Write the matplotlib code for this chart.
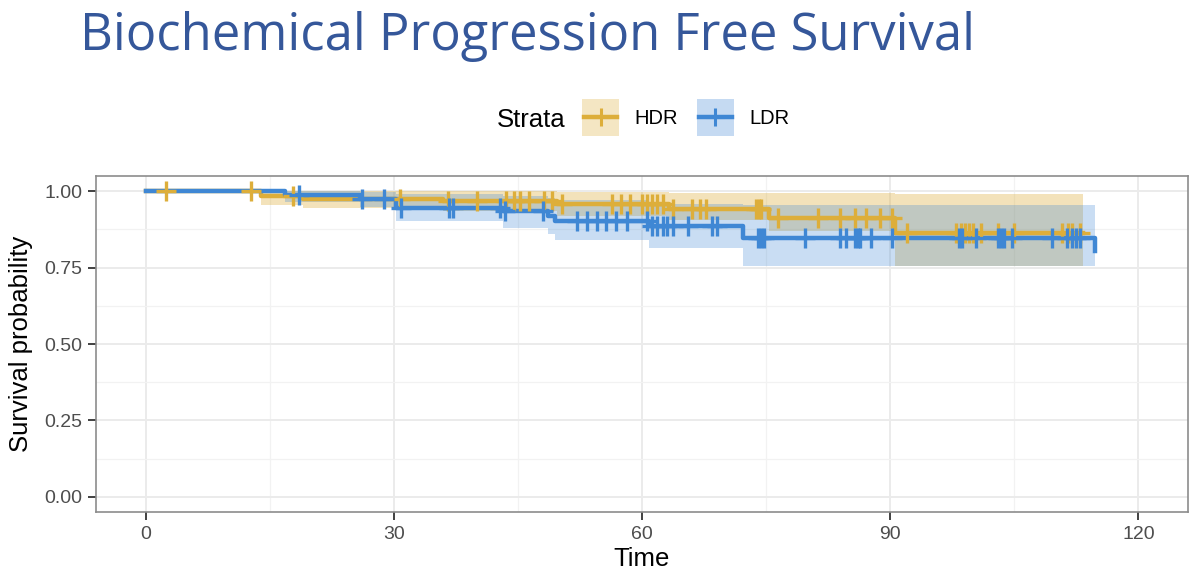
import numpy as np
import matplotlib
matplotlib.use("Agg")
import matplotlib.pyplot as plt
from matplotlib.patches import Rectangle
from matplotlib.lines import Line2D

# Kaplan-Meier Stufen (Zeit, Ueberleben) und Konfidenzband
hdr_t = [0, 14, 19, 36, 49.7, 63.3, 75.4, 90.6, 113.3]
hdr_s = [1.0, 0.983, 0.975, 0.968, 0.957, 0.943, 0.914, 0.865, 0.865]
hdr_lo = [1.0, 0.955, 0.945, 0.935, 0.92, 0.905, 0.87, 0.755, 0.755]
hdr_hi = [1.0, 1.0, 1.0, 1.0, 0.998, 0.996, 0.995, 0.99, 0.99]

ldr_t = [0, 16.8, 25.9, 30.3, 43.2, 48.6, 49.5, 60.8, 72.2, 114.7]
ldr_s = [1.0, 0.988, 0.974, 0.946, 0.935, 0.919, 0.903, 0.886, 0.848, 0.804]
ldr_lo = [1.0, 0.965, 0.947, 0.903, 0.881, 0.86, 0.84, 0.815, 0.755, 0.755]
ldr_hi = [1.0, 1.0, 0.998, 0.99, 0.985, 0.978, 0.97, 0.957, 0.954, 0.954]

# zensierte Beobachtungen
hdr_cens = [2.5, 12.7, 17.8, 30.7, 36.5, 40, 43.6, 44.5, 45.2, 46.3, 48.2, 49.1,
            50.3, 56.4, 57.5, 58.6, 60, 60.6, 61.2, 61.8, 62.5, 63.7, 66, 67, 67.7,
            73.8, 74.2, 74.4, 76.4, 81.3, 83.9, 85.8, 87.1, 88.8, 90.2, 92,
            98, 98.5, 99, 99.5, 100, 101, 103, 105, 110.8, 111.5, 112, 113]
ldr_cens = [18.5, 26.2, 28.8, 30.9, 36.7, 37.2, 42.8, 43.4, 48, 52.1, 53.4, 54.5,
            55.7, 56.9, 58.2, 60.6, 61.2, 61.8, 62.5, 63, 63.7, 65.5, 68.5, 69.1,
            74, 74.4, 74.8, 79.7, 83.9, 84.7, 85.8, 86.1, 86.4, 87.7, 90.2,
            98.3, 98.7, 100.4, 103, 103.4, 103.8, 104.7, 109.6, 111.4, 112, 112.5, 113]

gold = "#DDAE3A"
blue = "#3F87D4"
font = "Liberation Sans"


def surv_at(times, surv, x):
    idx = np.searchsorted(times, x, side="right") - 1
    return np.array(surv)[idx]


fig = plt.figure(figsize=(12, 5.79), dpi=100)
ax = fig.add_axes([0.08, 0.1157, 0.91, 0.5803])

# Baender: HDR zuerst, LDR halbtransparent darueber
ax.fill_between(hdr_t, hdr_lo, hdr_hi, step="post", color=gold, alpha=0.35, lw=0, zorder=2)
ax.fill_between(ldr_t, ldr_lo, ldr_hi, step="post", color=blue, alpha=0.28, lw=0, zorder=2)

for t, s, cens, col in [(hdr_t, hdr_s, hdr_cens, gold), (ldr_t, ldr_s, ldr_cens, blue)]:
    ax.step(t, s, where="post", color=col, lw=3.2, zorder=3)
    ax.plot(cens, surv_at(t, s, cens), ls="none", marker="+", ms=14, mew=2.4,
            color=col, zorder=4)

ax.set_xlim(-6, 126)
ax.set_ylim(-0.05, 1.05)
ax.set_xticks([0, 30, 60, 90, 120])
ax.set_xticks([15, 45, 75, 105], minor=True)
ax.set_yticks([0, 0.25, 0.5, 0.75, 1.0])
ax.set_yticks([0.125, 0.375, 0.625, 0.875], minor=True)
ax.set_yticklabels(["0.00", "0.25", "0.50", "0.75", "1.00"])
ax.grid(which="major", color="#EBEBEB", lw=1.4, zorder=0)
ax.grid(which="minor", color="#F2F2F2", lw=0.9, zorder=0)
ax.set_axisbelow(True)
for sp in ax.spines.values():
    sp.set_color("#8C8C8C")
    sp.set_linewidth(1.2)
ax.tick_params(which="major", length=6, width=1.3, color="#333333",
               labelsize=14, labelcolor="#4D4D4D", pad=4)
ax.tick_params(which="minor", length=0)
for lab in ax.get_xticklabels() + ax.get_yticklabels():
    lab.set_fontfamily(font)

ax.set_xlabel("Time", fontsize=18.5, family=font, labelpad=3)
ax.set_ylabel("Survival probability", fontsize=18.5, family=font, labelpad=8)

# Legende von Hand
fig.text(497 / 1200, 1 - 120 / 579, "Strata", fontsize=18.5, family=font,
         va="center", ha="left")
for x0, col, name in [(582, gold, "HDR"), (697, blue, "LDR")]:
    fig.add_artist(Rectangle((x0 / 1200, 1 - 136 / 579), 37 / 1200, 37 / 579,
                             transform=fig.transFigure, color=col, alpha=0.3, lw=0))
    fig.add_artist(Line2D([(x0 + 2) / 1200, (x0 + 35) / 1200], [1 - 117 / 579] * 2,
                          transform=fig.transFigure, color=col, lw=3.2))
    fig.add_artist(Line2D([(x0 + 18.5) / 1200], [1 - 117 / 579], marker="+", ms=13,
                          mew=2.2, transform=fig.transFigure, color=col))
    fig.text((x0 + 52) / 1200, 1 - 119 / 579, name, fontsize=14.5, family=font,
             va="center", ha="left")

fig.text(80 / 1200, 1 - 50 / 579, "Biochemical Progression Free Survival",
         fontsize=36.5, family="Open Sans", color="#35579A", va="baseline", ha="left")

fig.savefig("out.png", dpi=100)
